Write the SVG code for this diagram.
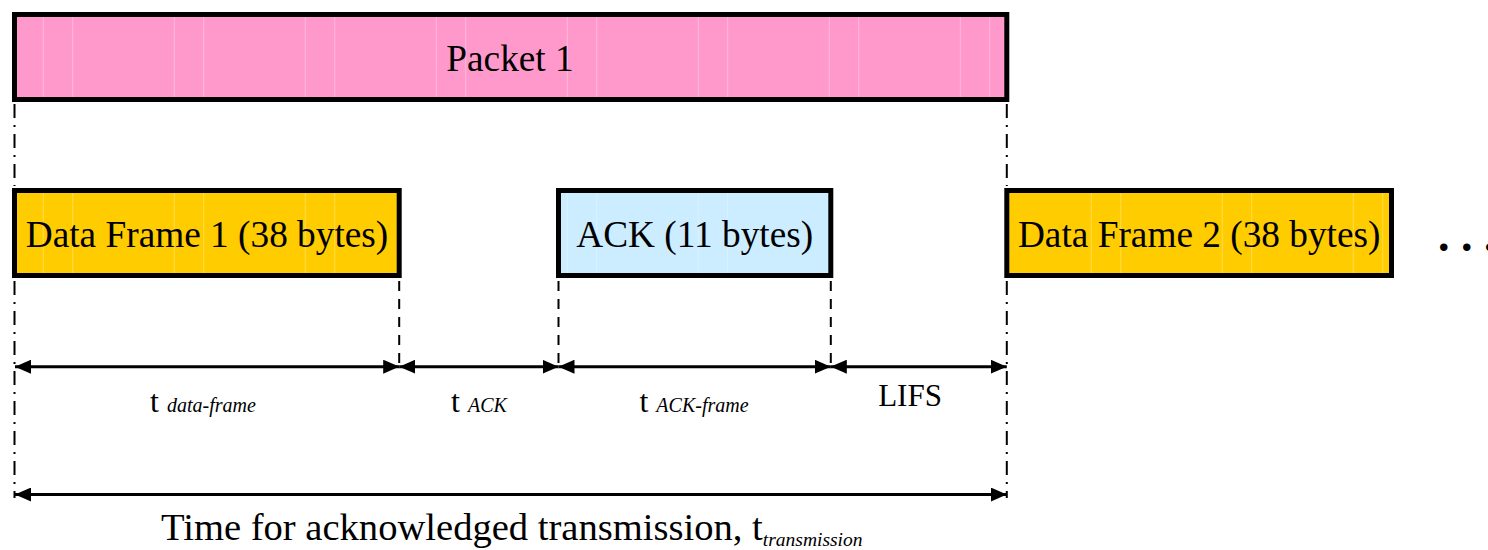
<svg xmlns="http://www.w3.org/2000/svg" width="1488" height="550" viewBox="0 0 1488 550">
<defs>
<style>
.box{stroke:#000;stroke-width:5}
.lbl{font-family:"Liberation Serif","Times New Roman",serif;font-size:37.3px;fill:#000;text-anchor:middle}
.dim{stroke:#000;stroke-width:3;fill:none;marker-start:url(#arr);marker-end:url(#arr)}
.dashdot{stroke:#000;stroke-width:2;fill:none;stroke-dasharray:14 7 2 7}
.dash{stroke:#000;stroke-width:2;fill:none;stroke-dasharray:10 8}
.t{font-family:"Liberation Serif","Times New Roman",serif;font-size:32px;fill:#000;text-anchor:middle}
.sub{font-style:italic;font-size:20px}
</style>
<marker id="arr" markerUnits="userSpaceOnUse" markerWidth="16" markerHeight="14" refX="16" refY="7" orient="auto-start-reverse">
<path d="M0,0 L16,7 L0,14 Z" fill="#000"/>
</marker>
<pattern id="tex" patternUnits="userSpaceOnUse" x="0" y="0" width="131" height="14.5">
<line x1="72.7" y1="0" x2="72.7" y2="14.5" stroke="#fff" stroke-opacity="0.3" stroke-width="1"/>
<line x1="43.3" y1="0" x2="43.3" y2="14.5" stroke="#fff" stroke-opacity="0.3" stroke-width="1"/>
</pattern>
</defs>
<rect width="1488" height="550" fill="#fff"/>

<g id="packet1">
<rect x="14.5" y="14.5" width="992.3" height="85" fill="#FF99CC"/>
<rect x="14.5" y="14.5" width="992.3" height="85" fill="url(#tex)"/>
<rect class="box" x="14.5" y="14.5" width="992.3" height="85" fill="none"/>
<text class="lbl" x="510" y="71">Packet 1</text>
</g>

<g id="dataframe1">
<rect x="14.5" y="190.5" width="384.7" height="85" fill="#FFCC00"/>
<rect x="14.5" y="190.5" width="384.7" height="85" fill="url(#tex)"/>
<rect class="box" x="14.5" y="190.5" width="384.7" height="85" fill="none"/>
<text class="lbl" x="207" y="246.7">Data Frame 1 (38 bytes)</text>
</g>

<g id="ack">
<rect x="558.5" y="190.5" width="272.3" height="85" fill="#CCECFF"/>
<rect x="558.5" y="190.5" width="272.3" height="85" fill="url(#tex)"/>
<rect class="box" x="558.5" y="190.5" width="272.3" height="85" fill="none"/>
<text class="lbl" x="694.7" y="246.7">ACK (11 bytes)</text>
</g>

<g id="dataframe2">
<rect x="1006.8" y="190.5" width="384.7" height="85" fill="#FFCC00"/>
<rect x="1006.8" y="190.5" width="384.7" height="85" fill="url(#tex)"/>
<rect class="box" x="1006.8" y="190.5" width="384.7" height="85" fill="none"/>
<text class="lbl" x="1199.2" y="246.7">Data Frame 2 (38 bytes)</text>
</g>

<g id="ellipsis">
<text x="1438" y="251" style="font-family:'Liberation Serif','Times New Roman',serif;font-size:46px;font-weight:bold;fill:#000">. . .</text>
</g>

<g id="connectors">
<line class="dashdot" x1="14.5" y1="104" x2="14.5" y2="186"/>
<line class="dashdot" x1="14.5" y1="281" x2="14.5" y2="498"/>
<line class="dashdot" x1="1006.8" y1="104" x2="1006.8" y2="186"/>
<line class="dashdot" x1="1006.8" y1="281" x2="1006.8" y2="498"/>
<line class="dash" x1="399.2" y1="281" x2="399.2" y2="366"/>
<line class="dash" x1="558.5" y1="281" x2="558.5" y2="366"/>
<line class="dash" x1="830.8" y1="281" x2="830.8" y2="366"/>
<line class="dim" x1="15" y1="366.7" x2="399.2" y2="366.7"/>
<line class="dim" x1="399.2" y1="366.7" x2="558.5" y2="366.7"/>
<line class="dim" x1="558.5" y1="366.7" x2="830.8" y2="366.7"/>
<line class="dim" x1="830.8" y1="366.7" x2="1006.8" y2="366.7"/>
<line class="dim" x1="15" y1="494.5" x2="1006.8" y2="494.5"/>
</g>

<g id="labels">
<text class="t" x="203" y="412">t <tspan class="sub">data-frame</tspan></text>
<text class="t" x="479" y="412">t <tspan class="sub">ACK</tspan></text>
<text class="t" x="694" y="412">t <tspan class="sub">ACK-frame</tspan></text>
<text class="t" x="910" y="406" style="font-size:31px">LIFS</text>
<text x="161" y="540" style="font-family:'Liberation Serif','Times New Roman',serif;font-size:38.6px;fill:#000">Time for acknowledged transmission, t<tspan dy="6" style="font-style:italic;font-size:19.5px">transmission</tspan></text>
</g>
</svg>
